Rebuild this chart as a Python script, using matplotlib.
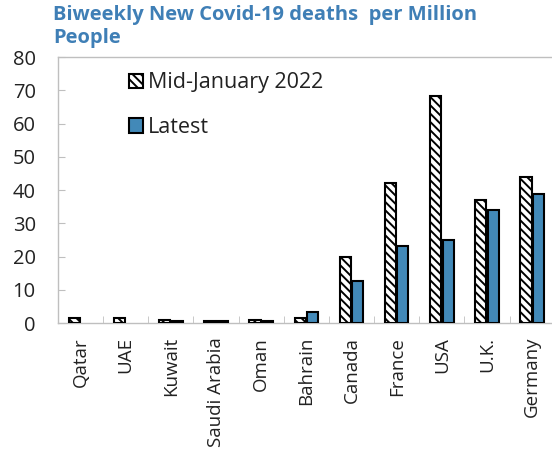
import matplotlib
matplotlib.use("Agg")
import matplotlib.pyplot as plt
from matplotlib.patches import Patch
import numpy as np

plt.rcParams['font.family'] = ['Open Sans', 'DejaVu Sans']
plt.rcParams['hatch.linewidth'] = 1.4

countries = ["Qatar", "UAE", "Kuwait", "Saudi Arabia", "Oman", "Bahrain",
             "Canada", "France", "USA", "U.K.", "Germany"]
mid_january = [1.5, 1.5, 1.0, 0.6, 0.9, 1.6, 19.9, 42.0, 68.3, 37.0, 44.0]
latest = [0.0, 0.0, 0.5, 0.6, 0.6, 3.4, 12.6, 23.2, 24.9, 34.0, 38.8]
y_ticks = [0, 10, 20, 30, 40, 50, 60, 70, 80]

title = "Biweekly New Covid-19 deaths  per Million\nPeople"
title_color = "#3f7fb6"
bar_blue = "#4289b8"
grey = "#bfbfbf"

fig = plt.figure(figsize=(5.52, 4.5), dpi=100)
ax = fig.add_axes([0.105, 0.282, 0.90, 0.591])

x = np.arange(len(countries))
w = 0.245
off = 0.137
ax.bar(x - off, mid_january, w, facecolor="white", edgecolor="black",
       hatch="\\\\\\\\", linewidth=1.5, zorder=3)
bars = ax.bar(x + off, latest, w, facecolor=bar_blue, edgecolor="black",
              linewidth=1.5, zorder=3)
# empty values leave no outline on the baseline
for b, v in zip(bars, latest):
    if v == 0:
        b.set_linewidth(0)

ax.set_xlim(-0.5, len(countries) - 0.5)
ax.set_ylim(0, 80)
ax.set_yticks(y_ticks)
ax.tick_params(axis='y', direction='in', length=5, color=grey,
               labelsize=14.5, labelcolor="#222222", pad=16)

ax.set_xticks(x)
ax.set_xticklabels(countries, rotation=90, fontsize=13.5, color="#222222")
ax.tick_params(axis='x', which='major', length=0, pad=10)
ax.set_xticks(np.arange(-0.5, len(countries), 1.0), minor=True)
ax.tick_params(axis='x', which='minor', direction='in', length=5, color=grey)

for s in ax.spines.values():
    s.set_color(grey)
    s.set_linewidth(1.0)

handles = [
    Patch(facecolor="white", edgecolor="black", hatch="\\\\\\\\",
          linewidth=1.5, label="Mid-January 2022"),
    Patch(facecolor=bar_blue, edgecolor="black", linewidth=1.5, label="Latest"),
]
leg = ax.legend(handles=handles, loc="upper left", bbox_to_anchor=(0.125, 0.975),
                frameon=False, fontsize=15.5, handlelength=0.65,
                handleheight=0.65, handletextpad=0.25, labelspacing=1.1,
                borderaxespad=0)
for t in leg.get_texts():
    t.set_color("#222222")

fig.text(53 / 552, 1 - 5 / 450, title, ha="left", va="top", fontsize=14.5,
         fontweight="bold", color=title_color, linespacing=1.2)

fig.savefig("out.png", dpi=100)
